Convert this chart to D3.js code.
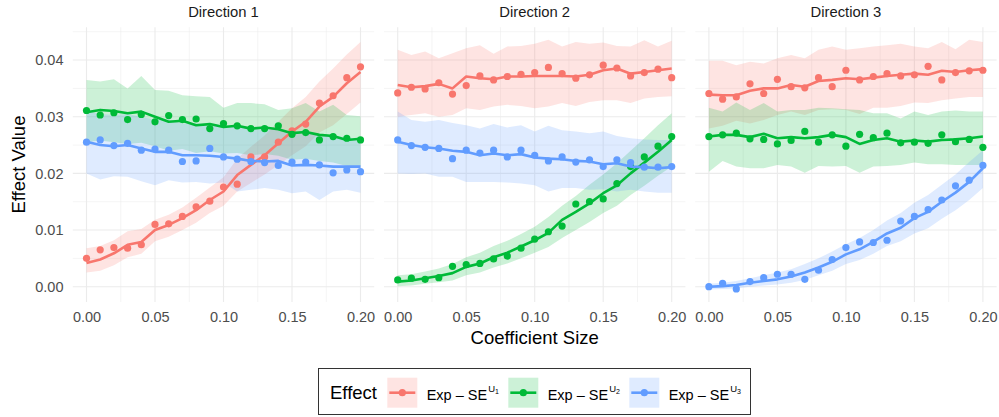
<!DOCTYPE html>
<html><head><meta charset="utf-8">
<script src="https://cdn.jsdelivr.net/npm/d3@7"></script>
<style>body{margin:0;background:#fff}svg{display:block;font-family:"Liberation Sans",Arial,Helvetica,sans-serif}</style>
</head><body><svg id="c" width="999" height="417"></svg>
<script>
const xs = [0,0.01,0.02,0.03,0.04,0.05,0.06,0.07,0.08,0.09,0.10,0.11,0.12,0.13,0.14,0.15,0.16,0.17,0.18,0.19,0.20];
const panels = ["Direction 1","Direction 2","Direction 3"];
const effects = ["U1","U2","U3"];
const colors = ["#F8766D","#00BA38","#619CFF"];
const xTicks = [0,0.05,0.10,0.15,0.20];
const yTicks = [0,0.01,0.02,0.03,0.04];

// Direction 1
const d1_u1_pts = [0.0050,0.0065,0.0069,0.0068,0.0074,0.0110,0.0111,0.0124,0.0141,0.0151,0.0176,0.0181,0.0229,0.0229,0.0255,0.0275,0.0287,0.0324,0.0337,0.0369,0.0388];
const d1_u1_fit = [0.0042,0.0048,0.0059,0.0074,0.0079,0.0100,0.0109,0.0121,0.0135,0.0153,0.0168,0.0197,0.0215,0.0232,0.0253,0.0274,0.0291,0.0318,0.0335,0.0359,0.0379];
const d1_u1_lo = [0.0025,0.0028,0.0038,0.0052,0.0058,0.0080,0.0088,0.0100,0.0113,0.0130,0.0143,0.0168,0.0183,0.0198,0.0215,0.0232,0.0248,0.0272,0.0285,0.0305,0.0325];
const d1_u1_hi = [0.0068,0.0072,0.0082,0.0098,0.0102,0.0118,0.0127,0.0140,0.0157,0.0175,0.0193,0.0226,0.0247,0.0267,0.0291,0.0315,0.0335,0.0362,0.0385,0.0410,0.0432];
const d1_u2_pts = [0.0311,0.0303,0.0307,0.0295,0.0304,0.0291,0.0302,0.0295,0.0296,0.0279,0.0288,0.0284,0.0279,0.0279,0.0284,0.0269,0.0272,0.0259,0.0265,0.0262,0.0259];
const d1_u2_fit = [0.0308,0.0312,0.0310,0.0306,0.0309,0.0300,0.0291,0.0293,0.0285,0.0287,0.0282,0.0284,0.0279,0.0281,0.0278,0.0271,0.0273,0.0268,0.0266,0.0259,0.0261];
const d1_u2_lo = [0.0255,0.0258,0.0255,0.0252,0.0254,0.0248,0.0240,0.0243,0.0236,0.0239,0.0235,0.0236,0.0232,0.0234,0.0231,0.0224,0.0226,0.0222,0.0219,0.0213,0.0212];
const d1_u2_hi = [0.0365,0.0362,0.0366,0.0350,0.0372,0.0347,0.0346,0.0338,0.0336,0.0335,0.0316,0.0324,0.0324,0.0322,0.0312,0.0315,0.0324,0.0309,0.0321,0.0303,0.0301];
const d1_u3_pts = [0.0255,0.0259,0.0249,0.0253,0.0241,0.0243,0.0241,0.0221,0.0222,0.0244,0.0229,0.0225,0.0221,0.0219,0.0214,0.0220,0.0220,0.0215,0.0201,0.0206,0.0203];
const d1_u3_fit = [0.0256,0.0250,0.0248,0.0250,0.0244,0.0238,0.0238,0.0232,0.0232,0.0231,0.0229,0.0226,0.0222,0.0221,0.0222,0.0214,0.0215,0.0214,0.0212,0.0212,0.0212];
const d1_u3_lo = [0.0200,0.0189,0.0195,0.0194,0.0186,0.0179,0.0188,0.0184,0.0185,0.0182,0.0184,0.0168,0.0171,0.0174,0.0171,0.0165,0.0168,0.0153,0.0168,0.0171,0.0166];
const d1_u3_hi = [0.0310,0.0305,0.0303,0.0305,0.0300,0.0294,0.0295,0.0288,0.0288,0.0287,0.0284,0.0283,0.0278,0.0277,0.0278,0.0268,0.0270,0.0269,0.0265,0.0264,0.0260];

// Direction 2
const d2_u1_pts = [0.0342,0.0352,0.0349,0.0360,0.0340,0.0355,0.0372,0.0365,0.0371,0.0375,0.0378,0.0387,0.0376,0.0368,0.0374,0.0391,0.0386,0.0372,0.0378,0.0384,0.0369];
const d2_u1_fit = [0.0356,0.0352,0.0354,0.0358,0.0350,0.0371,0.0368,0.0366,0.0371,0.0371,0.0372,0.0372,0.0372,0.0371,0.0374,0.0382,0.0385,0.0376,0.0379,0.0382,0.0385];
const d2_u1_lo = [0.0300,0.0303,0.0306,0.0300,0.0303,0.0315,0.0312,0.0318,0.0321,0.0319,0.0315,0.0318,0.0324,0.0319,0.0326,0.0329,0.0329,0.0324,0.0332,0.0335,0.0336];
const d2_u1_hi = [0.0418,0.0409,0.0415,0.0403,0.0412,0.0421,0.0426,0.0411,0.0424,0.0425,0.0429,0.0436,0.0424,0.0432,0.0429,0.0431,0.0425,0.0424,0.0435,0.0424,0.0434];
const d2_u2_pts = [0.0012,0.0015,0.0013,0.0016,0.0036,0.0039,0.0041,0.0049,0.0054,0.0068,0.0084,0.0097,0.0107,0.0146,0.0150,0.0155,0.0182,0.0212,0.0229,0.0248,0.0265];
const d2_u2_fit = [0.0009,0.0011,0.0015,0.0019,0.0024,0.0035,0.0041,0.0052,0.0060,0.0071,0.0082,0.0095,0.0118,0.0132,0.0147,0.0165,0.0179,0.0200,0.0219,0.0238,0.0259];
const d2_u2_lo = [0.0001,0.0002,0.0005,0.0008,0.0011,0.0020,0.0025,0.0034,0.0041,0.0050,0.0060,0.0070,0.0086,0.0100,0.0114,0.0130,0.0143,0.0162,0.0178,0.0196,0.0212];
const d2_u2_hi = [0.0020,0.0022,0.0027,0.0032,0.0040,0.0052,0.0060,0.0072,0.0081,0.0093,0.0106,0.0123,0.0143,0.0160,0.0180,0.0198,0.0218,0.0240,0.0262,0.0285,0.0306];
const d2_u3_pts = [0.0259,0.0249,0.0246,0.0244,0.0226,0.0241,0.0236,0.0241,0.0229,0.0241,0.0232,0.0222,0.0229,0.0220,0.0224,0.0212,0.0224,0.0219,0.0211,0.0211,0.0212];
const d2_u3_fit = [0.0256,0.0250,0.0246,0.0244,0.0240,0.0238,0.0232,0.0235,0.0232,0.0234,0.0228,0.0226,0.0225,0.0222,0.0221,0.0216,0.0218,0.0212,0.0211,0.0209,0.0211];
const d2_u3_lo = [0.0200,0.0199,0.0200,0.0194,0.0194,0.0185,0.0185,0.0185,0.0184,0.0182,0.0179,0.0168,0.0174,0.0174,0.0171,0.0172,0.0168,0.0171,0.0168,0.0166,0.0166];
const d2_u3_hi = [0.0309,0.0294,0.0291,0.0294,0.0289,0.0285,0.0279,0.0287,0.0281,0.0285,0.0274,0.0284,0.0276,0.0274,0.0271,0.0274,0.0266,0.0262,0.0260,0.0259,0.0259];

// Direction 3
const d3_u1_pts = [0.0341,0.0331,0.0335,0.0358,0.0341,0.0366,0.0353,0.0351,0.0369,0.0353,0.0382,0.0365,0.0371,0.0376,0.0372,0.0374,0.0389,0.0365,0.0378,0.0381,0.0382];
const d3_u1_fit = [0.0339,0.0338,0.0338,0.0346,0.0350,0.0350,0.0356,0.0353,0.0363,0.0365,0.0368,0.0366,0.0369,0.0372,0.0374,0.0376,0.0374,0.0381,0.0379,0.0382,0.0384];
const d3_u1_lo = [0.0279,0.0284,0.0293,0.0288,0.0294,0.0303,0.0309,0.0303,0.0312,0.0313,0.0312,0.0305,0.0316,0.0316,0.0319,0.0325,0.0324,0.0329,0.0332,0.0335,0.0335];
const d3_u1_hi = [0.0399,0.0399,0.0391,0.0397,0.0394,0.0403,0.0409,0.0403,0.0418,0.0424,0.0418,0.0421,0.0424,0.0426,0.0429,0.0424,0.0421,0.0432,0.0419,0.0436,0.0432];
const d3_u2_pts = [0.0265,0.0268,0.0271,0.0261,0.0260,0.0252,0.0258,0.0274,0.0255,0.0268,0.0248,0.0269,0.0263,0.0271,0.0254,0.0255,0.0253,0.0268,0.0256,0.0260,0.0246];
const d3_u2_fit = [0.0265,0.0268,0.0268,0.0264,0.0270,0.0262,0.0264,0.0262,0.0264,0.0268,0.0264,0.0252,0.0259,0.0262,0.0256,0.0258,0.0256,0.0259,0.0260,0.0262,0.0265];
const d3_u2_lo = [0.0203,0.0222,0.0212,0.0209,0.0209,0.0215,0.0212,0.0201,0.0213,0.0212,0.0213,0.0201,0.0212,0.0213,0.0215,0.0219,0.0216,0.0216,0.0215,0.0215,0.0215];
const d3_u2_hi = [0.0316,0.0309,0.0325,0.0312,0.0324,0.0309,0.0312,0.0312,0.0316,0.0315,0.0313,0.0312,0.0306,0.0306,0.0297,0.0309,0.0303,0.0309,0.0311,0.0309,0.0309];
const d3_u3_pts = [0.0000,0.0006,-0.0004,0.0009,0.0016,0.0022,0.0022,0.0013,0.0029,0.0048,0.0069,0.0079,0.0078,0.0082,0.0116,0.0124,0.0136,0.0153,0.0178,0.0188,0.0214];
const d3_u3_fit = [0.0000,0.0001,0.0003,0.0007,0.0010,0.0013,0.0018,0.0025,0.0034,0.0044,0.0057,0.0066,0.0079,0.0094,0.0104,0.0121,0.0132,0.0150,0.0166,0.0185,0.0209];
const d3_u3_lo = [-0.0005,-0.0004,-0.0003,0.0000,0.0002,0.0004,0.0007,0.0012,0.0020,0.0028,0.0040,0.0047,0.0058,0.0072,0.0080,0.0094,0.0103,0.0120,0.0135,0.0153,0.0174];
const d3_u3_hi = [0.0005,0.0007,0.0010,0.0015,0.0020,0.0025,0.0031,0.0040,0.0050,0.0062,0.0075,0.0086,0.0100,0.0117,0.0130,0.0148,0.0162,0.0180,0.0198,0.0220,0.0241];

const series = [
  [[d1_u1_pts,d1_u1_fit,d1_u1_lo,d1_u1_hi],[d1_u2_pts,d1_u2_fit,d1_u2_lo,d1_u2_hi],[d1_u3_pts,d1_u3_fit,d1_u3_lo,d1_u3_hi]],
  [[d2_u1_pts,d2_u1_fit,d2_u1_lo,d2_u1_hi],[d2_u2_pts,d2_u2_fit,d2_u2_lo,d2_u2_hi],[d2_u3_pts,d2_u3_fit,d2_u3_lo,d2_u3_hi]],
  [[d3_u1_pts,d3_u1_fit,d3_u1_lo,d3_u1_hi],[d3_u2_pts,d3_u2_fit,d3_u2_lo,d3_u2_hi],[d3_u3_pts,d3_u3_fit,d3_u3_lo,d3_u3_hi]]
];

const svg = d3.select("#c");
const panelLeft = [72.8, 384.0, 695.2], panelW = 301.4;
const yTop = 27.2, yBot = 302;
const y = d3.scaleLinear().domain([-0.0027, 0.0458]).range([yBot, yTop]);
const fmt = d3.format(".2f");
const gridMajor = "#EBEBEB";

panels.forEach((title, p) => {
  const x = d3.scaleLinear().domain([-0.01, 0.21]).range([panelLeft[p], panelLeft[p] + panelW]);
  const g = svg.append("g");
  [0.005,0.015,0.025,0.035,0.045].forEach(v => g.append("line").attr("x1",x.range()[0]).attr("x2",x.range()[1]).attr("y1",y(v)).attr("y2",y(v)).attr("stroke",gridMajor).attr("stroke-width",0.55));
  [0.025,0.075,0.125,0.175].forEach(v => g.append("line").attr("y1",yTop).attr("y2",yBot).attr("x1",x(v)).attr("x2",x(v)).attr("stroke",gridMajor).attr("stroke-width",0.55));
  yTicks.forEach(v => g.append("line").attr("x1",x.range()[0]).attr("x2",x.range()[1]).attr("y1",y(v)).attr("y2",y(v)).attr("stroke",gridMajor).attr("stroke-width",1.1));
  xTicks.forEach(v => g.append("line").attr("y1",yTop).attr("y2",yBot).attr("x1",x(v)).attr("x2",x(v)).attr("stroke",gridMajor).attr("stroke-width",1.1));
  const xAxis = d3.axisBottom(x).tickValues(xTicks).tickFormat(fmt).tickSize(0).tickPadding(0);
  const ax = svg.append("g").attr("transform",`translate(0,${yBot+10})`).call(xAxis);
  ax.select(".domain").remove();
  ax.selectAll("text").attr("font-size",14.5).attr("fill","#4D4D4D").attr("font-family","Liberation Sans, Arial, sans-serif").attr("dy","0.71em");
  svg.append("text").attr("x",(x.range()[0]+x.range()[1])/2).attr("y",17).attr("text-anchor","middle").attr("font-size",14.8).attr("fill","#1A1A1A").text(title);

  const area = d3.area().x((d,i)=>x(xs[i])).y0(d=>y(d[0])).y1(d=>y(d[1]));
  const line = d3.line().x((d,i)=>x(xs[i])).y(d=>y(d));
  series[p].forEach((s,k) => {
    g.append("path").datum(s[2].map((lo,i)=>[lo,s[3][i]])).attr("d",area).attr("fill",colors[k]).attr("fill-opacity",0.2);
  });
  series[p].forEach((s,k) => {
    g.append("path").datum(s[1]).attr("d",line).attr("fill","none").attr("stroke",colors[k]).attr("stroke-width",2.6).attr("stroke-linejoin","round");
    g.selectAll(null).data(s[0]).join("circle").attr("cx",(d,i)=>x(xs[i])).attr("cy",d=>y(d)).attr("r",3.6).attr("fill",colors[k]);
  });
});

const yAxis = d3.axisLeft(y).tickValues(yTicks).tickFormat(fmt).tickSize(0).tickPadding(0);
const ay = svg.append("g").attr("transform","translate(63.5,0)").call(yAxis);
ay.select(".domain").remove();
ay.selectAll("text").attr("font-size",14.5).attr("fill","#4D4D4D").attr("font-family","Liberation Sans, Arial, sans-serif");

svg.append("text").attr("transform",`translate(25,${(yTop+yBot)/2}) rotate(-90)`).attr("text-anchor","middle").attr("font-size",18.5).attr("fill","#000").text("Effect Value");
svg.append("text").attr("x",(panelLeft[0]+panelLeft[2]+panelW)/2).attr("y",344).attr("text-anchor","middle").attr("font-size",18.5).attr("fill","#000").text("Coefficient Size");

const lg = svg.append("g");
lg.append("rect").attr("x",318.5).attr("y",368.5).attr("width",432).attr("height",46).attr("fill","#fff").attr("stroke","#333").attr("stroke-width",1);
lg.append("text").attr("x",330).attr("y",399).attr("font-size",18.5).attr("fill","#000").text("Effect");
const keyX = [387.3, 508.3, 629.3], labX = [426.7, 547.7, 668.7];
const subs = ["1","2","3"];
effects.forEach((e,k) => {
  lg.append("rect").attr("x",keyX[k]).attr("y",377.7).attr("width",30).attr("height",30).attr("fill",colors[k]).attr("fill-opacity",0.2);
  lg.append("line").attr("x1",keyX[k]+2).attr("x2",keyX[k]+28).attr("y1",392.7).attr("y2",392.7).attr("stroke",colors[k]).attr("stroke-width",2.6);
  lg.append("circle").attr("cx",keyX[k]+15).attr("cy",392.7).attr("r",3.6).attr("fill",colors[k]);
  const t = lg.append("text").attr("x",labX[k]).attr("y",399.5).attr("font-size",14.5).attr("fill","#000");
  t.append("tspan").text("Exp \u2013 SE");
  t.append("tspan").attr("font-size",9.5).attr("dy",-8).attr("dx",1).text("U");
  t.append("tspan").attr("font-size",7).attr("dy",2.5).text(subs[k]);
});
</script></body></html>
